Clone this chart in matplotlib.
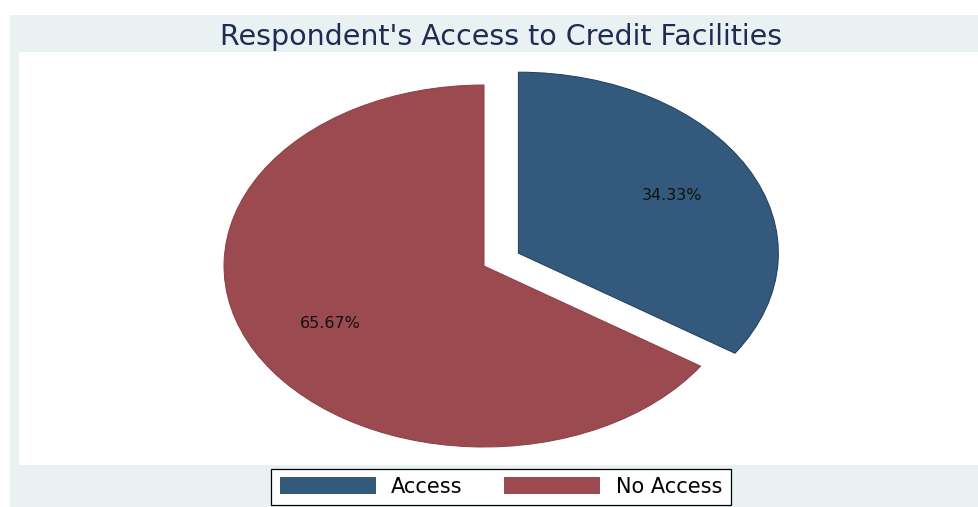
import matplotlib
matplotlib.use('Agg')
import matplotlib.pyplot as plt
from matplotlib.patches import Rectangle, Patch

categories = ['Access', 'No Access']
values = [34.33, 65.67]
colors = ['#335a7c', '#9b4a50']
edge_colors = ['#1f3d5c', '#8a3f45']
title = "Respondent's Access to Credit Facilities"

W, H = 979, 507
fig = plt.figure(figsize=(W / 100, H / 100), dpi=100, facecolor='white')


def fx(px):
    return px / W


def fy(py):
    return 1 - py / H


# outer light band and inner white plot region
fig.patches.append(Rectangle((fx(10), 0), 1 - fx(10), fy(15), transform=fig.transFigure,
                             facecolor='#eaf1f3', edgecolor='none', zorder=-20))
fig.patches.append(Rectangle((fx(19), fy(465)), 1 - fx(19), fy(52) - fy(465), transform=fig.transFigure,
                             facecolor='white', edgecolor='none', zorder=-10))

ax = fig.add_axes([fx(19), fy(465), fx(979) - fx(19), fy(52) - fy(465)])
wedges, texts, autotexts = ax.pie(values, explode=[0.15, 0], colors=colors, startangle=90,
                                  counterclock=False, autopct='%.2f%%', pctdistance=0.67,
                                  wedgeprops=dict(linewidth=0.7),
                                  textprops=dict(fontsize=11.5, color='#111111', family='DejaVu Sans'))
for w, ec in zip(wedges, edge_colors):
    w.set_edgecolor(ec)
ax.set_aspect('auto')
cx, cy, rx, ry = 484, 266, 260, 181
ax.set_xlim((19 - cx) / rx, (979 - cx) / rx)
ax.set_ylim((cy - 465) / ry, (cy - 52) / ry)
ax.set_axis_off()

fig.text(fx(501), fy(37), title, ha='center', va='center', fontsize=20.5,
         color='#1c2c52', family='DejaVu Sans')

handles = [Patch(facecolor=c, edgecolor='none') for c in colors]
leg = fig.legend(handles, categories, loc='center', bbox_to_anchor=(fx(501), fy(487)), ncol=2,
                 frameon=True, fancybox=False, edgecolor='black', facecolor='white', framealpha=1,
                 prop=dict(family='DejaVu Sans', size=15), handlelength=4.6, handleheight=0.9,
                 handletextpad=0.75, columnspacing=2.0, borderpad=0.4, borderaxespad=0)
leg.get_frame().set_linewidth(0.9)

fig.savefig('out.png', dpi=100, facecolor='white')
